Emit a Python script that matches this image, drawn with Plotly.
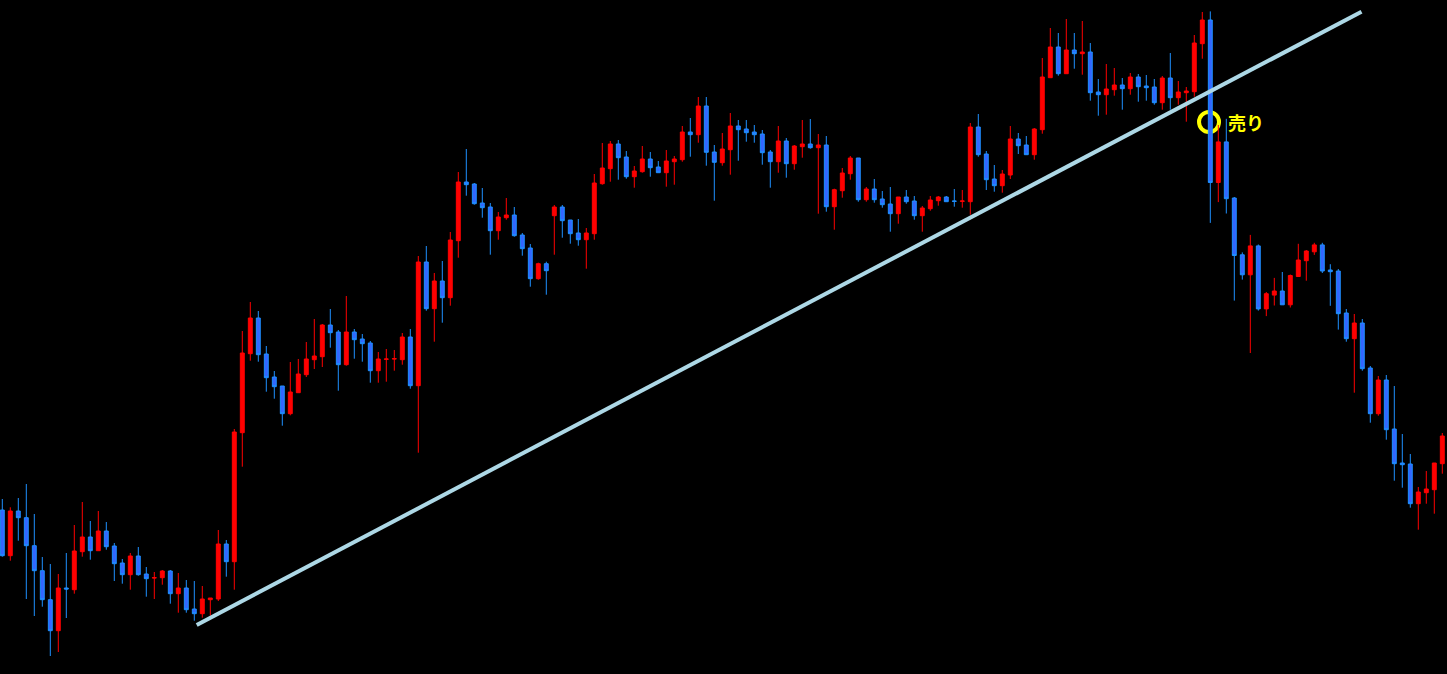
import plotly.graph_objects as go

# OHLC, one candle per bar
open_ = [144.900, 144.443, 144.890, 144.823, 144.543, 144.293, 144.003, 143.693, 144.120, 144.103,
         144.483, 144.630, 144.493, 144.690, 144.540, 144.370, 144.253, 144.440, 144.260, 144.220,
         144.223, 144.290, 144.063, 144.120, 143.910, 143.863, 144.003, 144.010, 144.560, 144.383,
         145.673, 146.463, 146.820, 146.460, 146.230, 146.140, 145.863, 146.073, 146.253, 146.403,
         146.433, 146.750, 146.680, 146.353, 146.680, 146.610, 146.570, 146.293, 146.407, 146.410,
         146.403, 146.630, 146.143, 147.380, 146.913, 147.190, 147.023, 147.593, 148.180, 148.160,
         147.970, 147.930, 147.693, 147.823, 147.850, 147.650, 147.520, 147.213, 147.363, 147.843,
         147.930, 147.800, 147.670, 147.603, 147.663, 148.163, 148.313, 148.560, 148.430, 148.233,
         148.283, 148.410, 148.330, 148.273, 148.383, 148.403, 148.680, 148.653, 148.940, 148.480,
         148.373, 148.503, 148.740, 148.710, 148.680, 148.660, 148.480, 148.383, 148.590, 148.363,
         148.533, 148.560, 148.523, 148.550, 147.933, 148.093, 148.263, 148.420, 148.003, 148.110,
         148.010, 147.960, 147.863, 148.030, 147.990, 147.843, 147.913, 147.993, 148.030, 147.990,
         147.987, 147.983, 148.730, 148.460, 148.210, 148.143, 148.250, 148.610, 148.550, 148.453,
         148.703, 149.223, 149.530, 149.263, 149.500, 149.463, 149.480, 149.080, 149.053, 149.103,
         149.150, 149.113, 149.230, 149.140, 149.130, 148.973, 149.220, 149.023, 149.073, 149.083,
         149.563, 149.800, 148.175, 148.581, 148.020, 147.452, 147.252, 147.541, 146.911, 147.049,
         147.090, 146.952, 147.235, 147.393, 147.482, 147.551, 147.300, 147.290, 146.870, 146.613,
         146.770, 146.320, 145.863, 146.200, 145.710, 145.370, 145.360, 144.963, 145.073, 145.103,
         145.363]

high = [145.010, 144.927, 145.020, 145.160, 144.860, 144.430, 144.360, 144.260, 144.470, 144.750,
        144.980, 144.790, 144.890, 144.780, 144.570, 144.410, 144.470, 144.530, 144.330, 144.280,
        144.300, 144.300, 144.270, 144.200, 144.190, 144.140, 144.020, 144.700, 144.600, 145.710,
        146.690, 146.980, 146.890, 146.540, 146.290, 146.140, 146.380, 146.410, 146.580, 146.810,
        146.760, 146.910, 146.700, 147.040, 146.710, 146.660, 146.590, 146.480, 146.510, 146.500,
        146.670, 146.710, 147.440, 147.540, 147.270, 147.390, 147.680, 148.280, 148.510, 148.170,
        148.120, 147.970, 147.880, 148.020, 147.930, 147.670, 147.560, 147.373, 147.383, 147.950,
        147.950, 147.800, 147.810, 147.720, 148.260, 148.570, 148.590, 148.600, 148.490, 148.340,
        148.540, 148.480, 148.390, 148.500, 148.440, 148.740, 148.820, 149.030, 149.030, 148.550,
        148.670, 148.870, 148.800, 148.800, 148.750, 148.700, 148.500, 148.740, 148.620, 148.550,
        148.800, 148.810, 148.660, 148.640, 148.113, 148.320, 148.440, 148.420, 148.130, 148.210,
        148.090, 148.130, 148.030, 148.100, 148.040, 147.940, 148.040, 148.040, 148.040, 148.110,
        148.100, 148.770, 148.860, 148.490, 148.350, 148.300, 148.740, 148.670, 148.640, 148.720,
        149.420, 149.720, 149.670, 149.810, 149.670, 149.790, 149.570, 149.210, 149.360, 149.320,
        149.220, 149.270, 149.260, 149.250, 149.210, 149.240, 149.470, 149.190, 149.130, 149.650,
        149.880, 149.886, 148.750, 148.812, 148.030, 147.476, 147.651, 147.555, 147.080, 147.221,
        147.280, 147.255, 147.562, 147.500, 147.572, 147.572, 147.358, 147.310, 146.910, 146.860,
        146.810, 146.340, 146.240, 146.250, 146.140, 145.660, 145.460, 145.130, 145.290, 145.370,
        145.670]

low = [144.433, 144.393, 144.593, 144.010, 143.840, 143.933, 143.440, 143.480, 143.820, 144.063,
       144.433, 144.403, 144.493, 144.503, 144.190, 144.163, 144.103, 144.243, 144.033, 144.010,
       144.153, 143.963, 143.873, 143.873, 143.793, 143.823, 143.843, 143.990, 144.233, 144.103,
       145.333, 146.393, 146.383, 146.083, 146.013, 145.743, 145.847, 146.073, 146.230, 146.310,
       146.330, 146.523, 146.093, 146.343, 146.413, 146.383, 146.173, 146.173, 146.183, 146.293,
       146.353, 146.113, 145.473, 146.893, 146.583, 146.773, 146.943, 147.423, 148.043, 147.953,
       147.823, 147.453, 147.603, 147.803, 147.633, 147.443, 147.133, 147.203, 147.053, 147.453,
       147.623, 147.563, 147.543, 147.313, 147.603, 148.153, 148.183, 148.203, 148.213, 148.123,
       148.273, 148.233, 148.273, 148.133, 148.153, 148.383, 148.433, 148.573, 148.343, 147.993,
       148.343, 148.253, 148.393, 148.583, 148.573, 148.353, 148.123, 148.273, 148.223, 148.303,
       148.423, 148.513, 147.863, 147.883, 147.703, 148.023, 148.203, 147.983, 147.983, 147.973,
       147.923, 147.683, 147.763, 147.963, 147.803, 147.683, 147.893, 147.943, 147.983, 147.933,
       147.923, 147.853, 148.433, 148.100, 148.083, 148.073, 148.210, 148.460, 148.453, 148.403,
       148.663, 149.223, 149.243, 149.263, 149.313, 149.253, 148.993, 148.843, 148.853, 149.043,
       148.903, 149.053, 148.983, 148.993, 148.953, 148.903, 148.903, 148.953, 148.783, 149.033,
       149.413, 147.771, 147.979, 147.865, 146.994, 147.204, 146.470, 146.894, 146.839, 146.945,
       146.952, 146.925, 147.235, 147.193, 147.451, 147.270, 146.942, 146.704, 146.583, 146.073,
       146.293, 145.773, 145.843, 145.603, 145.193, 145.123, 144.923, 144.703, 144.963, 144.863,
       145.263]

close = [144.443, 144.890, 144.823, 144.543, 144.293, 144.003, 143.693, 144.120, 144.110, 144.490,
         144.630, 144.493, 144.690, 144.533, 144.363, 144.253, 144.440, 144.253, 144.213, 144.223,
         144.290, 144.063, 144.120, 143.903, 143.863, 144.010, 144.020, 144.560, 144.383, 145.680,
         146.470, 146.820, 146.453, 146.223, 146.133, 145.863, 146.080, 146.260, 146.410, 146.440,
         146.750, 146.673, 146.353, 146.680, 146.603, 146.563, 146.293, 146.410, 146.410, 146.413,
         146.630, 146.143, 147.380, 146.913, 147.190, 147.023, 147.600, 148.180, 148.153, 147.963,
         147.923, 147.693, 147.830, 147.850, 147.643, 147.513, 147.213, 147.363, 147.293, 147.930,
         147.793, 147.663, 147.603, 147.670, 148.170, 148.320, 148.560, 148.423, 148.233, 148.290,
         148.410, 148.323, 148.273, 148.390, 148.410, 148.680, 148.653, 148.940, 148.477, 148.377,
         148.510, 148.740, 148.703, 148.673, 148.653, 148.473, 148.383, 148.590, 148.363, 148.540,
         148.560, 148.523, 148.550, 147.933, 148.103, 148.270, 148.420, 148.003, 148.110, 148.003,
         147.953, 147.863, 148.030, 147.983, 147.843, 147.920, 148.000, 148.030, 147.983, 147.987,
         147.990, 148.730, 148.453, 148.203, 148.143, 148.260, 148.610, 148.543, 148.453, 148.710,
         149.230, 149.530, 149.263, 149.500, 149.463, 149.480, 149.073, 149.053, 149.110, 149.150,
         149.113, 149.230, 149.133, 149.123, 148.973, 149.220, 149.023, 149.080, 149.090, 149.570,
         149.800, 148.175, 148.581, 148.013, 147.445, 147.252, 147.541, 146.911, 147.063, 147.090,
         146.952, 147.245, 147.400, 147.490, 147.551, 147.290, 147.283, 146.863, 146.613, 146.770,
         146.313, 145.863, 146.200, 145.703, 145.363, 145.353, 144.963, 145.080, 145.110, 145.370,
         145.640]

bars = list(range(len(close)))

# trend line (two anchor points) and the sell marker
trend_x = [24.3, 169.9]
trend_y = [143.750, 149.883]
sell_x = 150.84
sell_y = 148.78
sell_label = '売り'
label_x = 153.0

fig = go.Figure()

fig.add_trace(go.Candlestick(
    x=bars, open=open_, high=high, low=low, close=close,
    increasing=dict(line=dict(color='#FF0000', width=1), fillcolor='#FF0000'),
    decreasing=dict(line=dict(color='#1E90FF', width=1), fillcolor='#3366FF'),
    whiskerwidth=0,
    hoverinfo='skip'
))

fig.add_trace(go.Scatter(
    x=trend_x, y=trend_y, mode='lines',
    line=dict(color='#ADD8E6', width=4),
    hoverinfo='skip'
))

# yellow ring around the break, sized in pixels, drawn behind the candles
fig.add_shape(
    type='circle', xref='x', yref='y', layer='below',
    xsizemode='pixel', ysizemode='pixel',
    xanchor=sell_x, yanchor=sell_y,
    x0=-10, x1=10, y0=-10, y1=10,
    line=dict(color='#FFFF00', width=4)
)

fig.add_annotation(
    x=label_x, y=sell_y, text='<b>' + sell_label + '</b>',
    showarrow=False, xanchor='left', yanchor='middle',
    font=dict(family='Noto Sans CJK JP', size=18, color='#FFFF00')
)

fig.update_layout(
    width=1447, height=674,
    margin=dict(l=0, r=0, t=0, b=0),
    paper_bgcolor='black', plot_bgcolor='black',
    showlegend=False,
    xaxis=dict(range=[-0.2875, 180.5875], visible=False, rangeslider=dict(visible=False)),
    yaxis=dict(range=[143.26, 150.0], visible=False),
)

fig.write_html("out.html", config={'displayModeBar': False},
               post_script="document.body.style.margin='0';")
